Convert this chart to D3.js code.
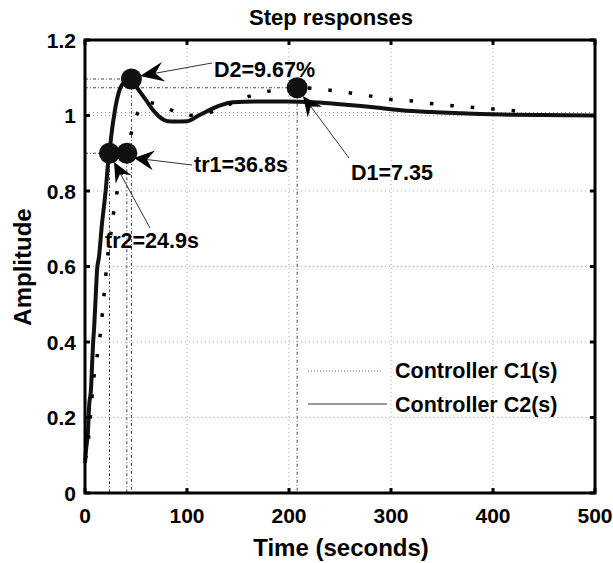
<!DOCTYPE html>
<html><head><meta charset="utf-8">
<script src="https://cdn.jsdelivr.net/npm/d3@7"></script>
<style>
body{margin:0;background:#fff;}
text{font-family:"Liberation Sans",Arial,sans-serif;font-weight:bold;fill:#000;}
</style></head>
<body><svg id="c" width="613" height="563"></svg>
<script>
// ---- data ----
const c1Time = [0,2.6,4.2,6.2,7.8,10.8,13.5,16,17.8,19.8,21.6,25,29,35,41,45,49,55,61,70,80,90,100,117,135,155,173,191,208,237,259,279,298,319,338,360,381,401,425];
const c1Amp  = [0.09,0.119,0.17,0.229,0.283,0.344,0.39,0.446,0.5,0.559,0.612,0.68,0.76,0.84,0.9,0.95,0.99,1.02,1.035,1.03,1.02,1.008,1.0,1.004,1.022,1.045,1.06,1.069,1.0735,1.068,1.06,1.052,1.043,1.039,1.032,1.026,1.021,1.017,1.012];
const c2Time = [0,1,3,4,6,7,8,9,10.8,11.8,13.7,16.7,19.3,20.6,22.5,24,25.5,29.4,33,36,40,45,52,60,68,75,81,90,100,112.7,132,145,172,198,220,250,290,310,340,370,420,500];
const c2Amp  = [0.08,0.114,0.167,0.228,0.28,0.344,0.4,0.44,0.538,0.59,0.625,0.715,0.776,0.81,0.87,0.9,0.94,1.015,1.06,1.08,1.09,1.0967,1.07,1.04,1.01,0.992,0.985,0.984,0.985,1.002,1.026,1.035,1.037,1.037,1.036,1.03,1.02,1.014,1.009,1.006,1.002,1.0];
const xTicks = [0,100,200,300,400,500];
const yTicks = [0,0.2,0.4,0.6,0.8,1,1.2];
const yTickLabels = ["0","0.2","0.4","0.6","0.8","1","1.2"];
const seriesNames = ["Controller C1(s)","Controller C2(s)"];
const annotLabels = ["D2=9.67%","D1=7.35","tr1=36.8s","tr2=24.9s"];
const annotT = [45.5,208,41,24];
const annotY = [1.0967,1.0735,0.9,0.9];
const extraHLine = 1.008;

// ---- layout ----
const svg = d3.select("#c");
const L=85,R=595,T=40,B=493;
const x = d3.scaleLinear().domain([0,500]).range([L,R]);
const y = d3.scaleLinear().domain([0,1.2]).range([B,T]);

// grid
const g = svg.append("g");
g.selectAll(".gx").data(xTicks.slice(1,-1)).enter().append("line")
 .attr("x1",d=>x(d)).attr("x2",d=>x(d)).attr("y1",T).attr("y2",B)
 .attr("stroke","#aaa").attr("stroke-width",1).attr("stroke-dasharray","1,3");
g.selectAll(".gy").data(yTicks.slice(1,-1)).enter().append("line")
 .attr("y1",d=>y(d)).attr("y2",d=>y(d)).attr("x1",L).attr("x2",R)
 .attr("stroke","#aaa").attr("stroke-width",1).attr("stroke-dasharray","1,3");
g.append("line").attr("x1",L).attr("x2",R).attr("y1",y(extraHLine)).attr("y2",y(extraHLine))
 .attr("stroke","#999").attr("stroke-width",1).attr("stroke-dasharray","1,3");

// annotation reference lines
const refStyle = s => s.attr("stroke","#444").attr("stroke-width",1).attr("stroke-dasharray","3,2,1,2");
annotT.forEach((t,i)=>{
  refStyle(g.append("line").attr("x1",x(t)).attr("x2",x(t)).attr("y1",y(annotY[i])).attr("y2",B));
});
refStyle(g.append("line").attr("x1",L).attr("x2",x(annotT[0])).attr("y1",y(annotY[0])).attr("y2",y(annotY[0])));
refStyle(g.append("line").attr("x1",L).attr("x2",x(annotT[1])).attr("y1",y(annotY[1])).attr("y2",y(annotY[1])));
refStyle(g.append("line").attr("x1",L).attr("x2",x(annotT[3])).attr("y1",y(annotY[3])).attr("y2",y(annotY[3])));

// curves
const line = d3.line().x(d=>x(d[0])).y(d=>y(d[1])).curve(d3.curveMonotoneX);
const c1 = c1Time.map((t,i)=>[t,c1Amp[i]]);
const c2 = c2Time.map((t,i)=>[t,c2Amp[i]]);
svg.append("path").attr("d",line(c2)).attr("fill","none").attr("stroke","#111").attr("stroke-width",4);
svg.append("path").attr("d",line(c1)).attr("fill","none").attr("stroke","#000").attr("stroke-width",3.5).attr("stroke-dasharray","3.5,17");

// markers
annotT.forEach((t,i)=>{
  svg.append("circle").attr("cx",x(t)).attr("cy",y(annotY[i])).attr("r",10.5).attr("fill","#111");
});

// arrows
function arrow(x0,y0,x1,y1,len,hw){
  const dx=x1-x0, dy=y1-y0, d=Math.hypot(dx,dy), ux=dx/d, uy=dy/d, px=-uy, py=ux;
  svg.append("line").attr("x1",x0).attr("y1",y0).attr("x2",x1-ux*len*0.5).attr("y2",y1-uy*len*0.5).attr("stroke","#333").attr("stroke-width",1);
  const bx=x1-ux*len, by=y1-uy*len, nx=x1-ux*len*0.65, ny=y1-uy*len*0.65;
  svg.append("path").attr("d",`M${x1},${y1}L${bx+px*hw},${by+py*hw}L${nx},${ny}L${bx-px*hw},${by-py*hw}Z`).attr("fill","#000");
}
arrow(212,63,140,76,24,10);
arrow(349,158,303,96,20,9);
arrow(192,165,134,158,20,10);
arrow(150,228,114,162,20,9);

// annotation labels
const labPos = [[214,77],[351,180],[194,172],[105,248]];
annotLabels.forEach((s,i)=>{
  svg.append("text").attr("x",labPos[i][0]).attr("y",labPos[i][1]).attr("font-size",21.5).text(s);
});

// axes box
svg.append("rect").attr("x",L).attr("y",T).attr("width",R-L).attr("height",B-T).attr("fill","none").attr("stroke","#000").attr("stroke-width",3);
// ticks (inside, all sides)
xTicks.forEach(v=>{
  svg.append("line").attr("x1",x(v)).attr("x2",x(v)).attr("y1",B).attr("y2",B-5).attr("stroke","#000").attr("stroke-width",3);
  svg.append("line").attr("x1",x(v)).attr("x2",x(v)).attr("y1",T).attr("y2",T+5).attr("stroke","#000").attr("stroke-width",3);
  svg.append("text").attr("x",x(v)).attr("y",523).attr("text-anchor","middle").attr("font-size",21).text(v);
});
yTicks.forEach((v,i)=>{
  svg.append("line").attr("x1",L).attr("x2",L+5).attr("y1",y(v)).attr("y2",y(v)).attr("stroke","#000").attr("stroke-width",3);
  svg.append("line").attr("x1",R).attr("x2",R-5).attr("y1",y(v)).attr("y2",y(v)).attr("stroke","#000").attr("stroke-width",3);
  svg.append("text").attr("x",76).attr("y",y(v)+7.5).attr("text-anchor","end").attr("font-size",21).text(yTickLabels[i]);
});

// legend
svg.append("line").attr("x1",308).attr("x2",381).attr("y1",371).attr("y2",371).attr("stroke","#666").attr("stroke-width",1).attr("stroke-dasharray","1,2");
svg.append("line").attr("x1",308).attr("x2",387).attr("y1",404).attr("y2",404).attr("stroke","#333").attr("stroke-width",1);
svg.append("text").attr("x",395).attr("y",378).attr("font-size",21.5).text(seriesNames[0]);
svg.append("text").attr("x",395).attr("y",412).attr("font-size",21.5).text(seriesNames[1]);

// titles
svg.append("text").attr("x",331).attr("y",25).attr("text-anchor","middle").attr("font-size",22).text("Step responses");
svg.append("text").attr("x",341).attr("y",556).attr("text-anchor","middle").attr("font-size",24).text("Time (seconds)");
svg.append("text").attr("transform","translate(31,267) rotate(-90)").attr("text-anchor","middle").attr("font-size",24).text("Amplitude");
</script></body></html>
